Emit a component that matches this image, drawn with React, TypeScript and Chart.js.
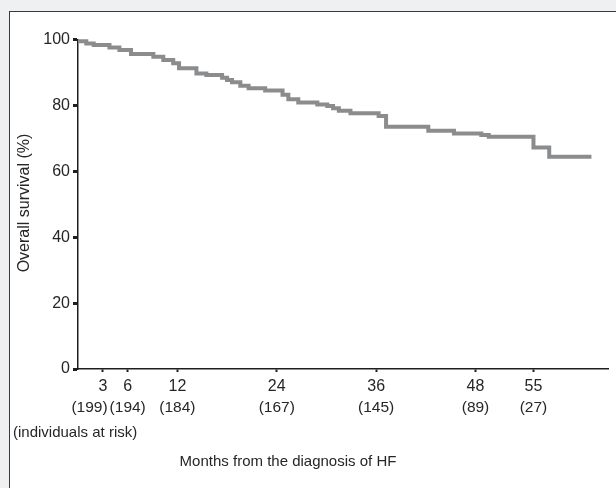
import React, { useEffect, useRef } from "react";
import { Chart, registerables } from "chart.js";

Chart.register(...registerables);

// Kaplan-Meier step points: month of event, survival (%) after it
const months = [0, 1.0, 1.9, 3.8, 5.0, 6.4, 9.1, 10.3, 11.5, 12.2, 14.3, 15.5, 17.4, 18.0, 18.6, 19.6, 20.6, 22.6, 24.7, 25.4, 26.6, 28.9, 30.1, 30.8, 31.5, 32.9, 36.3, 37.2, 42.3, 45.4, 48.7, 49.6, 55.0, 56.9, 62.0];
const survival = [99.5, 98.8, 98.3, 97.6, 96.8, 95.6, 94.8, 93.8, 92.8, 91.3, 89.7, 89.2, 88.4, 87.7, 87.0, 86.0, 85.2, 84.5, 83.2, 81.9, 80.9, 80.3, 79.8, 79.1, 78.4, 77.6, 76.8, 73.5, 72.3, 71.5, 71.0, 70.5, 67.2, 64.4, 64.4];

// x-axis ticks and individuals at risk
const tickMonths = [3, 6, 12, 24, 36, 48, 55];
const atRisk = [199, 194, 184, 167, 145, 89, 27];
const yTicks = [0, 20, 40, 60, 80, 100];

const yTitle = "Overall survival (%)";
const xTitle = "Months from the diagnosis of HF";
const riskNote = "(individuals at risk)";

const TEXT = "#262626";
const AXIS = "#1e1e1e";
const LINE = "#8b8c8e";
const FONT = '"Liberation Sans", Arial, sans-serif';

const textPlugin = {
  id: "extraText",
  afterDraw(chart: any) {
    const ctx = chart.ctx as CanvasRenderingContext2D;
    const xs = chart.scales.x;
    ctx.save();
    ctx.fillStyle = TEXT;
    ctx.font = `15.5px ${FONT}`;
    ctx.textBaseline = "middle";
    ctx.textAlign = "center";
    const labels = atRisk.map((n) => `(${n})`);
    const widths = labels.map((l) => ctx.measureText(l).width);
    const centers = tickMonths.map((m) => xs.getPixelForValue(m));
    for (let i = centers.length - 2; i >= 0; i--) {
      const maxRight = centers[i + 1] - widths[i + 1] / 2 - 2;
      if (centers[i] + widths[i] / 2 > maxRight) centers[i] = maxRight - widths[i] / 2;
    }
    labels.forEach((l, i) => ctx.fillText(l, centers[i], 408));
    ctx.font = `15px ${FONT}`;
    ctx.textAlign = "left";
    ctx.fillText(riskNote, 13, 433);
    ctx.textAlign = "center";
    ctx.fillText(xTitle, 288, 462);
    ctx.translate(25, 203);
    ctx.rotate(-Math.PI / 2);
    ctx.font = `16px ${FONT}`;
    ctx.fillText(yTitle, 0, 0);
    ctx.restore();
  },
};

export default function App() {
  const ref = useRef<HTMLCanvasElement>(null);
  useEffect(() => {
    if (!ref.current) return;
    const chart = new Chart(ref.current, {
      type: "line",
      data: {
        datasets: [
          {
            data: months.map((m, i) => ({ x: m, y: survival[i] })),
            borderColor: LINE,
            borderWidth: 4,
            pointRadius: 0,
            stepped: true,
            fill: false,
            clip: false as any,
          },
        ],
      },
      options: {
        responsive: false,
        animation: false,
        layout: { padding: { left: 0, top: 39.5, right: 8, bottom: 0 } },
        plugins: { legend: { display: false }, tooltip: { enabled: false } },
        scales: {
          x: {
            type: "linear",
            min: 0,
            max: 64,
            afterFit: (s: any) => {
              s.height = 119;
            },
            afterBuildTicks: (s: any) => {
              s.ticks = tickMonths.map((v) => ({ value: v }));
            },
            border: { display: true, color: AXIS, width: 1.5 },
            grid: {
              display: true,
              drawOnChartArea: false,
              drawTicks: true,
              tickLength: 3,
              tickWidth: 2,
              tickColor: AXIS,
            },
            ticks: {
              autoSkip: false,
              maxRotation: 0,
              padding: 5,
              color: TEXT,
              font: { family: FONT, size: 16 },
              callback: (v: any) => String(v),
            },
          },
          y: {
            type: "linear",
            min: 0,
            max: 100,
            afterFit: (s: any) => {
              s.width = 78;
            },
            afterBuildTicks: (s: any) => {
              s.ticks = yTicks.map((v) => ({ value: v }));
            },
            border: { display: true, color: AXIS, width: 1.5 },
            grid: {
              display: true,
              drawOnChartArea: false,
              drawTicks: true,
              tickLength: 5,
              tickWidth: 3,
              tickColor: AXIS,
            },
            ticks: {
              padding: 3,
              color: TEXT,
              font: { family: FONT, size: 16 },
            },
          },
        },
      },
      plugins: [textPlugin],
    });
    return () => chart.destroy();
  }, []);

  return (
    <div
      style={{
        position: "fixed",
        left: 0,
        top: 0,
        width: 616,
        height: 488,
        background: "#eef0f2",
        overflow: "hidden",
      }}
    >
      <div
        style={{
          position: "absolute",
          left: 9,
          top: 11,
          width: 640,
          height: 500,
          background: "#ffffff",
          border: "1px solid #3a3a3a",
        }}
      />
      <canvas
        ref={ref}
        width={616}
        height={488}
        style={{ position: "absolute", left: 0, top: 0, width: 616, height: 488 }}
      />
    </div>
  );
}
